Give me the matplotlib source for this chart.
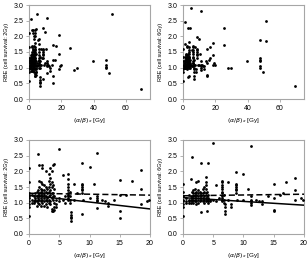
import numpy as np
import matplotlib.pyplot as plt

plt.rcParams['font.family'] = ['Liberation Sans', 'DejaVu Sans']

# (alpha/beta)_x columns and RBE values, cell survival 2 Gy
ab_2gy_cols = [0.0, 0.5, 0.8, 1.0, 1.3, 1.5, 1.7, 2.0, 2.2, 2.5, 2.8, 3.0, 3.3, 3.5,
               3.8, 4.0, 4.2, 4.5, 5.0, 5.6, 6.0, 6.4, 6.7, 7.0, 7.5, 8.0, 8.7, 9.0,
               10.0, 10.7, 11.3, 12.0, 12.5, 13.0, 14.0, 15.0, 16.0, 17.0, 18.5, 19.5,
               19.8, 25.5, 28.0, 29.5, 39.5, 47.5, 49.5, 51.5, 69.5]
rbe_2gy_cols = [
    [2.1, 1.65, 1.3, 1.22, 1.15, 1.05, 0.95, 0.85, 0.57],
    [1.25, 1.1, 1.0],
    [1.2, 1.05, 0.98],
    [1.3, 1.15, 1.1, 1.05],
    [1.35, 1.2, 1.05, 0.9],
    [2.55, 1.4, 1.25, 1.15, 1.1, 1.0],
    [2.2, 1.7, 1.5, 1.3, 1.2, 1.1, 0.95],
    [1.65, 1.45, 1.35, 1.25, 1.15, 1.05, 0.9],
    [2.2, 2.1, 1.6, 1.4, 1.3, 1.2, 1.1, 1.0],
    [1.55, 1.4, 1.3, 1.25, 1.15, 1.05, 0.9],
    [2.0, 1.5, 1.35, 1.2, 1.1, 0.95],
    [1.45, 1.3, 1.15, 1.05, 0.85],
    [1.9, 1.7, 1.5, 1.35, 1.2, 1.1, 1.0],
    [2.1, 1.8, 1.6, 1.4, 1.25, 1.05, 0.95],
    [2.0, 1.65, 1.5, 1.3, 1.15, 0.8, 0.75],
    [2.2, 1.55, 1.3, 1.2, 1.1, 0.72],
    [2.25, 1.45, 1.2, 1.0, 0.85, 0.78],
    [1.1, 0.95, 0.85],
    [2.7, 1.15, 1.05],
    [1.88, 1.1],
    [1.2, 1.0],
    [1.9, 1.75, 1.6, 1.5, 1.4, 1.3, 1.25, 1.2, 1.15, 1.1],
    [1.35, 1.2, 1.1, 1.0],
    [0.7, 0.6, 0.55, 0.5, 0.4],
    [1.6, 1.1],
    [1.3],
    [2.27, 1.6, 1.55, 1.5, 1.45, 1.4, 1.3, 0.65],
    [1.1],
    [2.15, 1.15],
    [1.6],
    [2.58, 1.22, 1.15, 1.1, 1.05, 0.82],
    [1.1],
    [1.05],
    [1.0, 0.9],
    [1.1],
    [1.72, 1.25, 0.75, 0.52],
    [1.25],
    [1.7],
    [2.05, 1.45, 0.95],
    [1.05],
    [1.1],
    [1.62],
    [0.93],
    [1.0],
    [1.2],
    [1.25, 1.1, 1.03, 0.98],
    [0.82],
    [2.7],
    [0.31],
]

# same for cell survival 6 Gy
ab_6gy_cols = [0.0, 0.5, 1.0, 1.3, 1.5, 1.7, 2.0, 2.2, 2.5, 2.8, 3.0, 3.3, 3.5, 3.8,
               4.0, 4.2, 4.5, 5.0, 5.5, 6.0, 6.4, 6.7, 7.0, 7.5, 8.0, 8.7, 9.0, 10.0,
               10.7, 11.3, 12.0, 12.5, 13.0, 14.0, 15.0, 16.0, 16.5, 17.0, 18.5, 19.5,
               19.8, 25.5, 28.0, 29.5, 39.5, 47.5, 49.5, 51.5, 69.5]
rbe_6gy_cols = [
    [1.6, 1.35, 1.22, 1.1, 1.05, 0.95, 0.85, 0.57],
    [1.15, 1.05, 1.0],
    [1.25, 1.1, 1.05, 1.0],
    [1.75, 1.2, 1.1, 1.0],
    [2.45, 1.35, 1.15, 1.05],
    [1.4, 1.3, 1.2, 1.1, 1.0],
    [1.45, 1.3, 1.2, 1.1, 1.05],
    [1.65, 1.35, 1.25, 1.15, 1.05, 0.95],
    [1.7, 1.4, 1.3, 1.2, 1.1, 1.0],
    [1.35, 1.25, 1.15, 1.05],
    [2.27, 1.3, 1.2, 1.1, 0.7],
    [1.45, 1.3, 1.15, 1.05],
    [1.5, 1.35, 1.2, 1.1, 1.0],
    [1.82, 1.65, 1.55, 1.45, 1.3, 1.15, 1.05],
    [1.35, 1.2, 1.1, 0.72],
    [2.28, 1.25, 1.15, 1.05, 1.0],
    [1.1, 1.05],
    [2.9, 1.1],
    [1.55, 1.05],
    [1.15],
    [1.7, 1.65, 1.55, 1.5, 1.45, 1.35, 1.3, 1.2, 1.15, 1.1, 1.05],
    [1.25, 1.1, 1.0],
    [0.95, 0.85, 0.75, 0.65],
    [1.65, 1.1],
    [0.95, 0.85],
    [1.97, 1.6, 1.55, 1.5, 1.45, 1.4, 1.3],
    [1.1],
    [1.9, 1.1],
    [1.45],
    [2.8, 1.2, 1.1, 1.05, 0.98, 0.92],
    [1.1],
    [1.05],
    [1.05, 0.97],
    [1.2],
    [1.6, 1.15, 0.78, 0.75],
    [1.25],
    [1.3],
    [1.65],
    [1.8, 1.4, 1.1],
    [1.15],
    [1.1],
    [2.27, 1.72],
    [1.0],
    [1.0],
    [1.2],
    [1.88, 1.32, 1.25, 1.2, 1.05, 1.0],
    [0.85],
    [2.5, 1.85],
    [0.4],
]

# linear fits in the zoomed panels: (intercept, slope)
fit_2gy_dashed = (1.30, -0.003)
fit_2gy_solid = (1.24, -0.022)
fit_6gy_dashed = (1.22, 0.0025)
fit_6gy_solid = (1.16, -0.012)

ylabels = ['RBE (cell survival: 2Gy)', 'RBE (cell survival: 6Gy)']
xlabel = r'$(\alpha/\beta)_x$ [Gy]'


def flatten(cols, vals):
    xs, ys = [], []
    for c, v in zip(cols, vals):
        xs += [c] * len(v)
        ys += v
    return np.array(xs), np.array(ys)


ab2, rbe2 = flatten(ab_2gy_cols, rbe_2gy_cols)
ab6, rbe6 = flatten(ab_6gy_cols, rbe_6gy_cols)

fig = plt.figure(figsize=(3.08, 2.61), dpi=100)
lefts = [29 / 308, 183 / 308]
bottoms = [1 - 99 / 261, 1 - 234 / 261]
w, h = 121 / 308, 94 / 261

data = [(ab2, rbe2, fit_2gy_dashed, fit_2gy_solid),
        (ab6, rbe6, fit_6gy_dashed, fit_6gy_solid)]

for row in range(2):
    for col in range(2):
        ab, rbe, fd, fs = data[col]
        ax = fig.add_axes([lefts[col], bottoms[row], w, h])
        if row == 0:
            ax.scatter(ab, rbe, s=4, c='black', linewidths=0, zorder=3)
            ax.set_xlim(0, 75)
            ax.set_xticks([0, 20, 40, 60])
        else:
            m = ab <= 20
            ax.scatter(ab[m], rbe[m], s=4, c='black', linewidths=0, zorder=3)
            xx = np.linspace(0, 20, 2)
            ax.plot(xx, fd[0] + fd[1] * xx, color='black', lw=1.1,
                    ls=(0, (4, 2)), zorder=4)
            ax.plot(xx, fs[0] + fs[1] * xx, color='black', lw=1.1,
                    ls='-', zorder=4)
            ax.set_xlim(0, 20)
            ax.set_xticks([0, 5, 10, 15, 20])
        ax.set_ylim(0, 3.0)
        ax.set_yticks(np.arange(0, 3.01, 0.5))
        ax.set_yticklabels([f'{v:.1f}' for v in np.arange(0, 3.01, 0.5)])
        for sp in ax.spines.values():
            sp.set_color('#a6a6a6')
            sp.set_linewidth(0.8)
        ax.tick_params(labelsize=5, length=2, width=0.6, color='#a6a6a6', pad=2)
        ax.set_ylabel(ylabels[col], fontsize=4, labelpad=3)
        ax.set_xlabel(xlabel, fontsize=4.5, labelpad=3)

fig.savefig('out.png', dpi=100)
